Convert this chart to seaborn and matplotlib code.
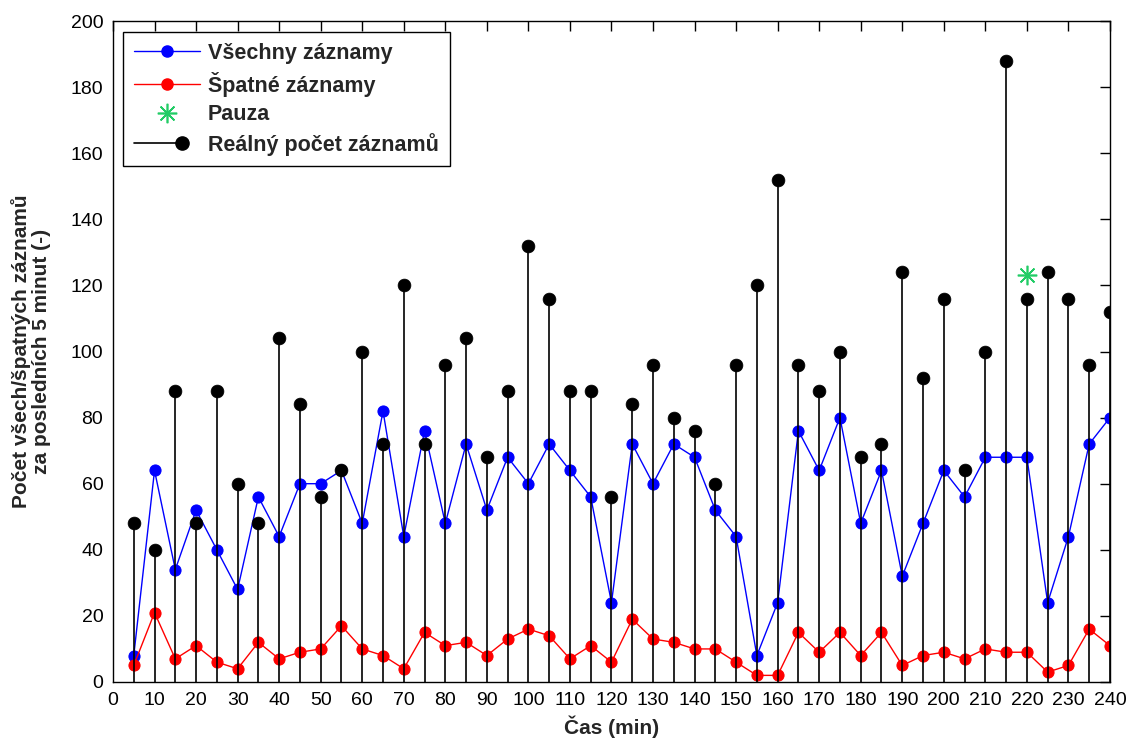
import numpy as np
import pandas as pd
import matplotlib
matplotlib.use("Agg")
import matplotlib.pyplot as plt
from matplotlib.lines import Line2D
from matplotlib.legend_handler import HandlerBase
import seaborn as sns

# Time of each 5-minute window (min)
cas = list(range(5, 245, 5))

# All records in the last 5 minutes
vsechny = [8, 64, 34, 52, 40, 28, 56, 44, 60, 60, 64, 48, 82, 44, 76, 48,
           72, 52, 68, 60, 72, 64, 56, 24, 72, 60, 72, 68, 52, 44, 8, 24,
           76, 64, 80, 48, 64, 32, 48, 64, 56, 68, 68, 68, 24, 44, 72, 80]

# Bad records in the last 5 minutes
spatne = [5, 21, 7, 11, 6, 4, 12, 7, 9, 10, 17, 10, 8, 4, 15, 11,
          12, 8, 13, 16, 14, 7, 11, 6, 19, 13, 12, 10, 10, 6, 2, 2,
          15, 9, 15, 8, 15, 5, 8, 9, 7, 10, 9, 9, 3, 5, 16, 11]

# Real number of records
realny = [48, 40, 88, 48, 88, 60, 48, 104, 84, 56, 64, 100, 72, 120, 72, 96,
          104, 68, 88, 132, 116, 88, 88, 56, 84, 96, 80, 76, 60, 96, 120, 152,
          96, 88, 100, 68, 72, 124, 92, 116, 64, 100, 188, 116, 124, 116, 96, 112]

# Pause marker
pauza_x = [220]
pauza_y = [123]

x_ticks = list(range(0, 250, 10))
y_ticks = list(range(0, 220, 20))

df = pd.DataFrame({"cas": cas, "vsechny": vsechny, "spatne": spatne, "realny": realny})

sns.set_style("white")
plt.rcParams["font.family"] = ["Liberation Sans", "DejaVu Sans"]

fig = plt.figure(figsize=(11.31, 7.40), dpi=100)
ax = fig.add_axes([0.0999, 0.0784, 0.8815, 0.8932])

blue = "#0000ff"
red = "#ff0000"
green = "#22cc66"

sns.lineplot(data=df, x="cas", y="vsechny", ax=ax, color=blue, lw=1,
             marker="o", markersize=8, markeredgecolor=blue, markerfacecolor=blue)
sns.lineplot(data=df, x="cas", y="spatne", ax=ax, color=red, lw=1,
             marker="o", markersize=8, markeredgecolor=red, markerfacecolor=red)
ax.plot(pauza_x, pauza_y, linestyle="none", marker=(8, 2, 0), markersize=14,
        color=green, markeredgewidth=1.2)
ax.vlines(df["cas"], 0, df["realny"], color="black", lw=1.2)
sns.scatterplot(data=df, x="cas", y="realny", ax=ax, color="black", s=85,
                edgecolor="black", linewidth=0.5, zorder=3)

ax.set_xlim(0, 240)
ax.set_ylim(0, 200)
ax.set_xticks(x_ticks)
ax.set_yticks(y_ticks)
ax.tick_params(direction="in", length=7, width=1, top=True, right=True,
               labelsize=14, colors="black", pad=7)
for s in ax.spines.values():
    s.set_visible(True)
    s.set_color("black")
    s.set_linewidth(1)

ax.set_xlabel("Čas (min)", fontsize=15, fontweight="bold", labelpad=5)
ax.set_ylabel("Počet všech/špatných záznamů\nza posledních 5 minut (-)",
              fontsize=15, fontweight="bold", labelpad=14, linespacing=1.1)


class StemHandler(HandlerBase):
    def create_artists(self, legend, orig_handle, xdescent, ydescent,
                       width, height, fontsize, trans):
        y = height / 2 - ydescent
        xm = -xdescent + width * 0.72
        line = Line2D([-xdescent, xm], [y, y], color="black", lw=1.2)
        mk = Line2D([xm], [y], marker="o", color="black", markersize=9.5,
                    linestyle="none")
        line.set_transform(trans)
        mk.set_transform(trans)
        return [line, mk]


h_all = Line2D([], [], color=blue, lw=1, marker="o", markersize=8)
h_bad = Line2D([], [], color=red, lw=1, marker="o", markersize=8)
h_pause = Line2D([], [], color=green, linestyle="none", marker=(8, 2, 0),
                 markersize=14, markeredgewidth=1.2)
h_real = Line2D([], [], color="black")

leg = ax.legend([h_all, h_bad, h_pause, h_real],
                ["Všechny záznamy", "Špatné záznamy", "Pauza", "Reálný počet záznamů"],
                handler_map={h_real: StemHandler()},
                loc="upper left", bbox_to_anchor=(0.010, 0.983), borderaxespad=0,
                prop={"weight": "bold", "size": 15.5}, frameon=True, fancybox=False,
                edgecolor="black", framealpha=1, handlelength=3.1, numpoints=1,
                labelspacing=0.35, handletextpad=0.35, borderpad=0.5)
leg.get_frame().set_linewidth(1)

fig.savefig("out.png", dpi=100, facecolor="white")
